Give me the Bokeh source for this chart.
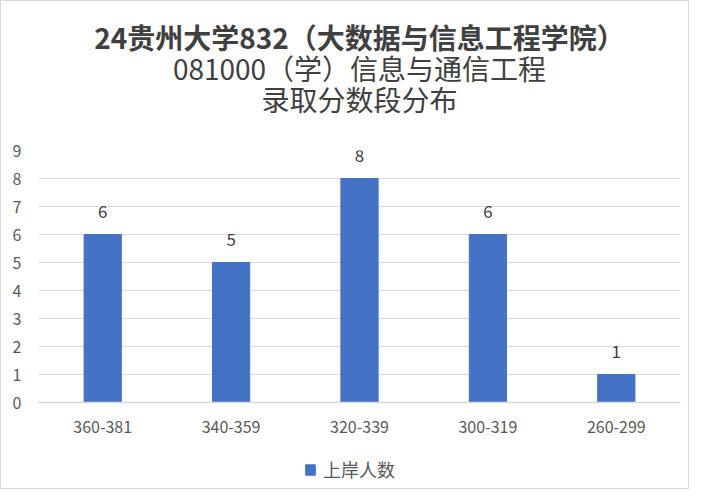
from bokeh.plotting import figure
from bokeh.layouts import column
from bokeh.models import FactorRange, Range1d, FixedTicker, Title, Legend, LegendItem, ColumnDataSource
from bokeh.embed import file_html
from bokeh.resources import INLINE
from bokeh.core.properties import value

categories = ["360-381", "340-359", "320-339", "300-319", "260-299"]
counts = [6, 5, 8, 6, 1]
y_ticks = [0, 1, 2, 3, 4, 5, 6, 7, 8, 9]
series_name = "上岸人数"
title_lines = ["24贵州大学832（大数据与信息工程学院）", "081000（学）信息与通信工程", "录取分数段分布"]

FONT = "Noto Sans CJK SC"
BAR = "#4472C4"
TXT = "#595959"

src = ColumnDataSource(dict(x=categories, y=counts, lbl=[str(v) for v in counts]))

p = figure(width=687, height=450, x_range=FactorRange(*categories, range_padding=0),
           y_range=Range1d(0, 9), output_backend="svg", toolbar_location=None,
           min_border_left=37, min_border_right=8, min_border_top=149, min_border_bottom=49)
p.outline_line_color = None
p.background_fill_color = "white"
p.border_fill_color = "white"

r = p.vbar(x="x", top="y", width=0.29, source=src, color=BAR)
p.text(x="x", y="y", text="lbl", source=src, y_offset=-23, text_align="center",
       text_baseline="middle", text_font=value(FONT), text_font_size="17px", text_color="#404040")

p.xgrid.grid_line_color = None
p.ygrid.grid_line_color = "#D9D9D9"
p.ygrid.grid_line_width = 1
p.yaxis.ticker = FixedTicker(ticks=y_ticks)

p.yaxis.axis_line_color = None
p.yaxis.major_tick_line_color = None
p.yaxis.minor_tick_line_color = None
p.yaxis.major_label_standoff = 11
p.yaxis.major_label_text_font = FONT
p.yaxis.major_label_text_font_size = "16px"
p.yaxis.major_label_text_color = TXT

p.xaxis.axis_line_color = "#D9D9D9"
p.xaxis.axis_line_width = 1.5
p.xaxis.major_tick_line_color = None
p.xaxis.minor_tick_line_color = None
p.xaxis.major_label_standoff = 12
p.xaxis.major_label_text_font = FONT
p.xaxis.major_label_text_font_size = "16px"
p.xaxis.major_label_text_color = TXT

# spacer between frame and title block
p.add_layout(Title(text=" ", align="center", text_font=FONT, text_font_size="28px",
                   standoff=-5), "above")
styles = ["bold", "normal", "normal"]
for i in [2, 1, 0]:
    p.add_layout(Title(text=title_lines[i], align="center", text_font=FONT,
                       text_font_size="28px", text_font_style=styles[i], text_color="#404040",
                       standoff=-11), "above")

# legend strip below the chart
leg = figure(width=687, height=37, x_range=FactorRange(*categories), y_range=Range1d(0, 9),
             output_backend="svg", toolbar_location=None,
             x_axis_type=None, y_axis_type=None, min_border=0)
leg.outline_line_color = None
leg.xgrid.grid_line_color = None
leg.ygrid.grid_line_color = None
proxy = leg.vbar(x="x", top="y", width=0.29, source=src, color=BAR, visible=False)
legend = Legend(items=[LegendItem(label=series_name, renderers=[proxy])], location=(266, 6),
                orientation="horizontal", padding=0, margin=0, border_line_color=None,
                background_fill_alpha=0, glyph_width=12, glyph_height=13, label_height=20,
                label_text_font=FONT, label_text_font_size="18px", label_text_color=TXT,
                label_standoff=7, inactive_fill_alpha=0)
leg.add_layout(legend)

layout = column(p, leg, spacing=0, styles={"border": "1px solid #D9D9D9"})

open("out.html", "w").write(file_html(layout, INLINE))
